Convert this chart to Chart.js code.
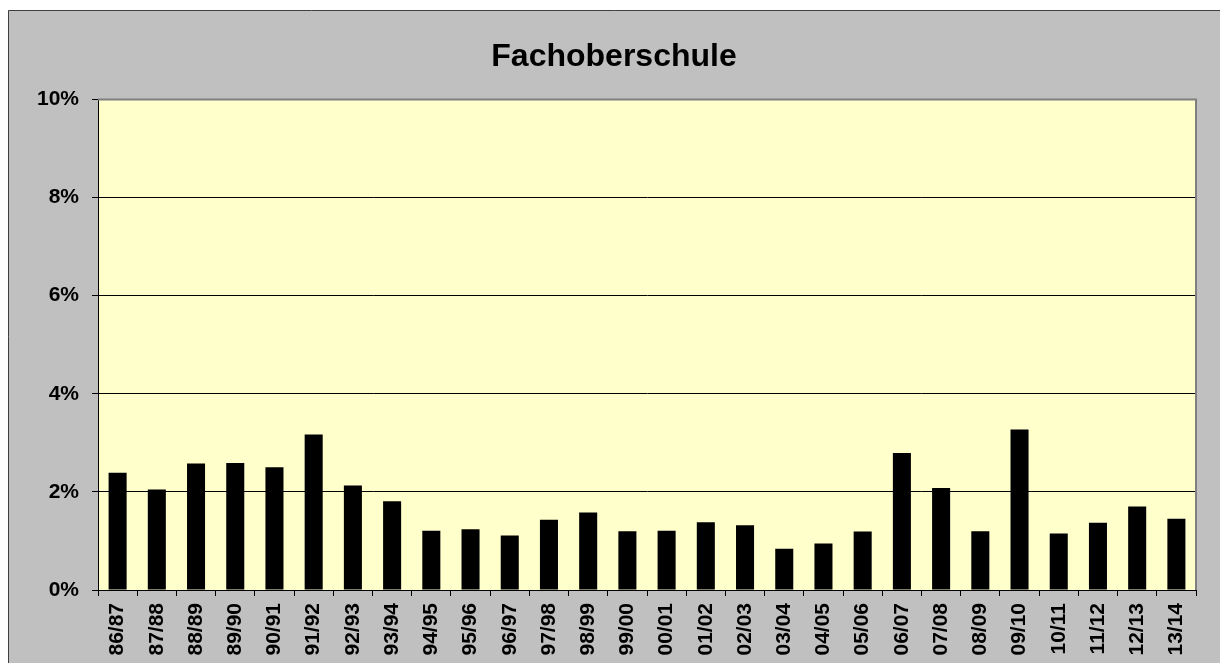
<!DOCTYPE html>
<html>
<head>
<meta charset="utf-8">
<title>Fachoberschule</title>
<script src="https://cdn.jsdelivr.net/npm/chart.js@4/dist/chart.umd.min.js"></script>
<style>
  html, body { margin: 0; padding: 0; background: #fff; }
  #wrap { width: 1220px; height: 663px; position: relative; }
</style>
</head>
<body>
<div id="wrap"><canvas id="chart" width="1220" height="663"></canvas></div>
<script>
// school years on the x axis
const years = ['86/87', '87/88', '88/89', '89/90', '90/91', '91/92', '92/93', '93/94', '94/95',
    '95/96', '96/97', '97/98', '98/99', '99/00', '00/01', '01/02', '02/03', '03/04', '04/05',
    '05/06', '06/07', '07/08', '08/09', '09/10', '10/11', '11/12', '12/13', '13/14'];

// share in percent
const shares = [2.39, 2.05, 2.58, 2.59, 2.50, 3.17, 2.13, 1.81, 1.21,
    1.24, 1.11, 1.43, 1.58, 1.20, 1.21, 1.38, 1.32, 0.84, 0.95,
    1.19, 2.79, 2.08, 1.20, 3.27, 1.15, 1.37, 1.70, 1.45];

const yTicks = [0, 2, 4, 6, 8, 10];

const FONT = '"Liberation Sans", Arial, sans-serif';

// grey panel, yellow plot area and its frame
const panelPlugin = {
    id: 'panel',
    beforeDraw(chart) {
        const { ctx, chartArea: a } = chart;
        ctx.save();
        ctx.fillStyle = '#ffffff';
        ctx.fillRect(0, 0, chart.width, chart.height);
        ctx.fillStyle = '#c0c0c0';
        ctx.fillRect(8, 10, chart.width, chart.height);
        ctx.strokeStyle = '#404040';
        ctx.lineWidth = 1;
        ctx.beginPath();
        ctx.moveTo(8.5, chart.height);
        ctx.lineTo(8.5, 10.5);
        ctx.lineTo(chart.width, 10.5);
        ctx.stroke();
        ctx.fillStyle = '#ffffcc';
        ctx.fillRect(a.left, a.top, a.right - a.left, a.bottom - a.top);
        ctx.restore();
    },
    beforeDatasetsDraw(chart) {
        const { ctx, chartArea: a } = chart;
        ctx.save();
        ctx.strokeStyle = '#808080';
        ctx.lineWidth = 2;
        ctx.beginPath();
        ctx.moveTo(a.left, a.top);
        ctx.lineTo(a.right, a.top);
        ctx.lineTo(a.right, a.bottom);
        ctx.stroke();
        ctx.restore();
    }
};

new Chart(document.getElementById('chart'), {
    type: 'bar',
    data: {
        labels: years,
        datasets: [{
            data: shares,
            backgroundColor: '#000000',
            borderWidth: 0,
            categoryPercentage: 1,
            barPercentage: 0.46
        }]
    },
    options: {
        responsive: false,
        animation: false,
        layout: { padding: { left: 32, right: 24, top: 0, bottom: 0 } },
        plugins: {
            legend: { display: false },
            tooltip: { enabled: false },
            title: {
                display: true,
                text: 'Fachoberschule',
                color: '#000',
                font: { family: FONT, size: 32, weight: 'bold' },
                padding: { top: 38, bottom: 23 }
            }
        },
        scales: {
            x: {
                offset: true,
                grid: {
                    offset: true,
                    drawOnChartArea: false,
                    drawTicks: true,
                    tickLength: 6,
                    color: '#000',
                    tickColor: '#000'
                },
                border: { color: '#000', width: 1 },
                ticks: {
                    minRotation: 90,
                    maxRotation: 90,
                    autoSkip: false,
                    padding: 7,
                    color: '#000',
                    font: { family: FONT, size: 21, weight: 'bold' }
                },
                afterFit(scale) { scale.height = 73; }
            },
            y: {
                min: 0,
                max: 10,
                afterBuildTicks(scale) { scale.ticks = yTicks.map(v => ({ value: v })); },
                grid: {
                    color: ctx => ctx.tick && ctx.tick.value === 10 ? 'rgba(0,0,0,0)' : '#000',
                    tickColor: '#000',
                    tickLength: 6,
                    lineWidth: 1
                },
                border: { color: '#000', width: 1 },
                ticks: {
                    padding: 13,
                    color: '#000',
                    font: { family: FONT, size: 21, weight: 'bold' },
                    callback: v => v + '%'
                },
                afterFit(scale) { scale.width = 66; }
            }
        }
    },
    plugins: [panelPlugin]
});
</script>
</body>
</html>
